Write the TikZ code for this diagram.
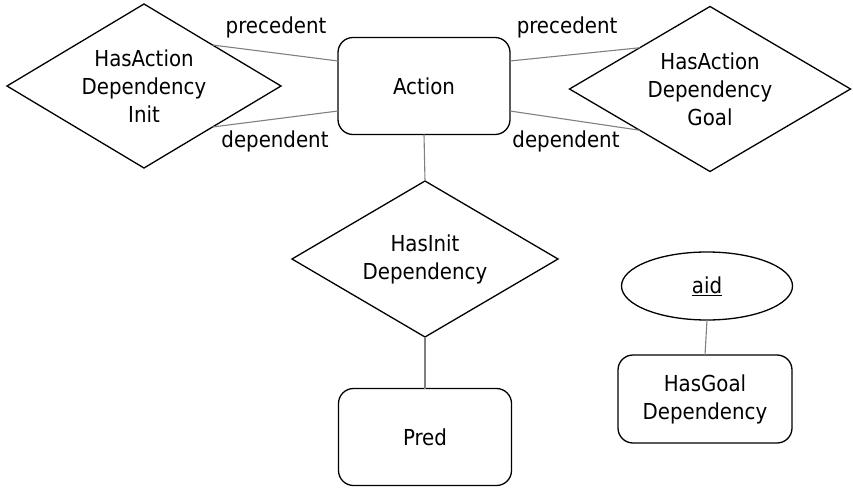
\documentclass[tikz,border=0pt]{standalone}
\usepackage{fontspec}
\setmainfont{DejaVu Sans Condensed}
\usetikzlibrary{shapes.geometric}
\begin{document}
\begin{tikzpicture}[x=1pt,y=-1pt,
  every node/.style={font=\fontsize{22}{28}\selectfont, align=center},
  entity/.style={draw=black, line width=1.3pt, rounded corners=15pt, inner sep=0pt, outer sep=0pt},
  relation/.style={draw=black, line width=1.3pt, diamond, aspect=1.7, inner sep=0pt, outer sep=0pt},
  attrib/.style={draw=black, line width=1.3pt, ellipse, inner sep=0pt, outer sep=0pt},
  link/.style={draw=black!50, line width=1.1pt},
  role/.style={inner sep=0pt}]
\useasboundingbox (0,0) rectangle (853,489);

% entities
\node[entity, minimum width=172pt, minimum height=97pt] (act) at (424,86) {Action};
\node[entity, minimum width=173pt, minimum height=97pt] (pred) at (425,437) {Pred};
\node[entity, minimum width=174pt, minimum height=88pt] (hgd) at (705,399) {HasGoal\\Dependency};

% relationships
\node[relation, minimum width=274pt, minimum height=164pt] (hadi) at (144,86) {HasAction\\Dependency\\Init};
\node[relation, minimum width=281pt, minimum height=165pt] (hadg) at (710,89) {HasAction\\Dependency\\Goal};
\node[relation, minimum width=266pt, minimum height=156pt] (hid) at (425,259) {HasInit\\Dependency};

% attribute
\node[attrib, minimum width=171pt, minimum height=68pt] (aid) at (707,286) {\underline{aid}};

% connectors
\coordinate (actwu) at (338,61);
\coordinate (actwd) at (338,111);
\coordinate (acteu) at (510,61);
\coordinate (acted) at (510,111);
\draw[link] (hadi.north east) -- (actwu);
\draw[link] (hadi.south east) -- (actwd);
\draw[link] (acteu) -- (hadg.north west);
\draw[link] (acted) -- (hadg.south west);
\draw[link] (act.south) -- (hid.north);
\draw[link] (hid.south) -- (pred.north);
\draw[link] (aid.south) -- (hgd.north);

% role labels
\node[role] (p1) at (276,27) {precedent};
\node[role] (d1) at (275,141) {dependent};
\node[role] (p2) at (567,27) {precedent};
\node[role] (d2) at (566,141) {dependent};
\end{tikzpicture}
\end{document}
